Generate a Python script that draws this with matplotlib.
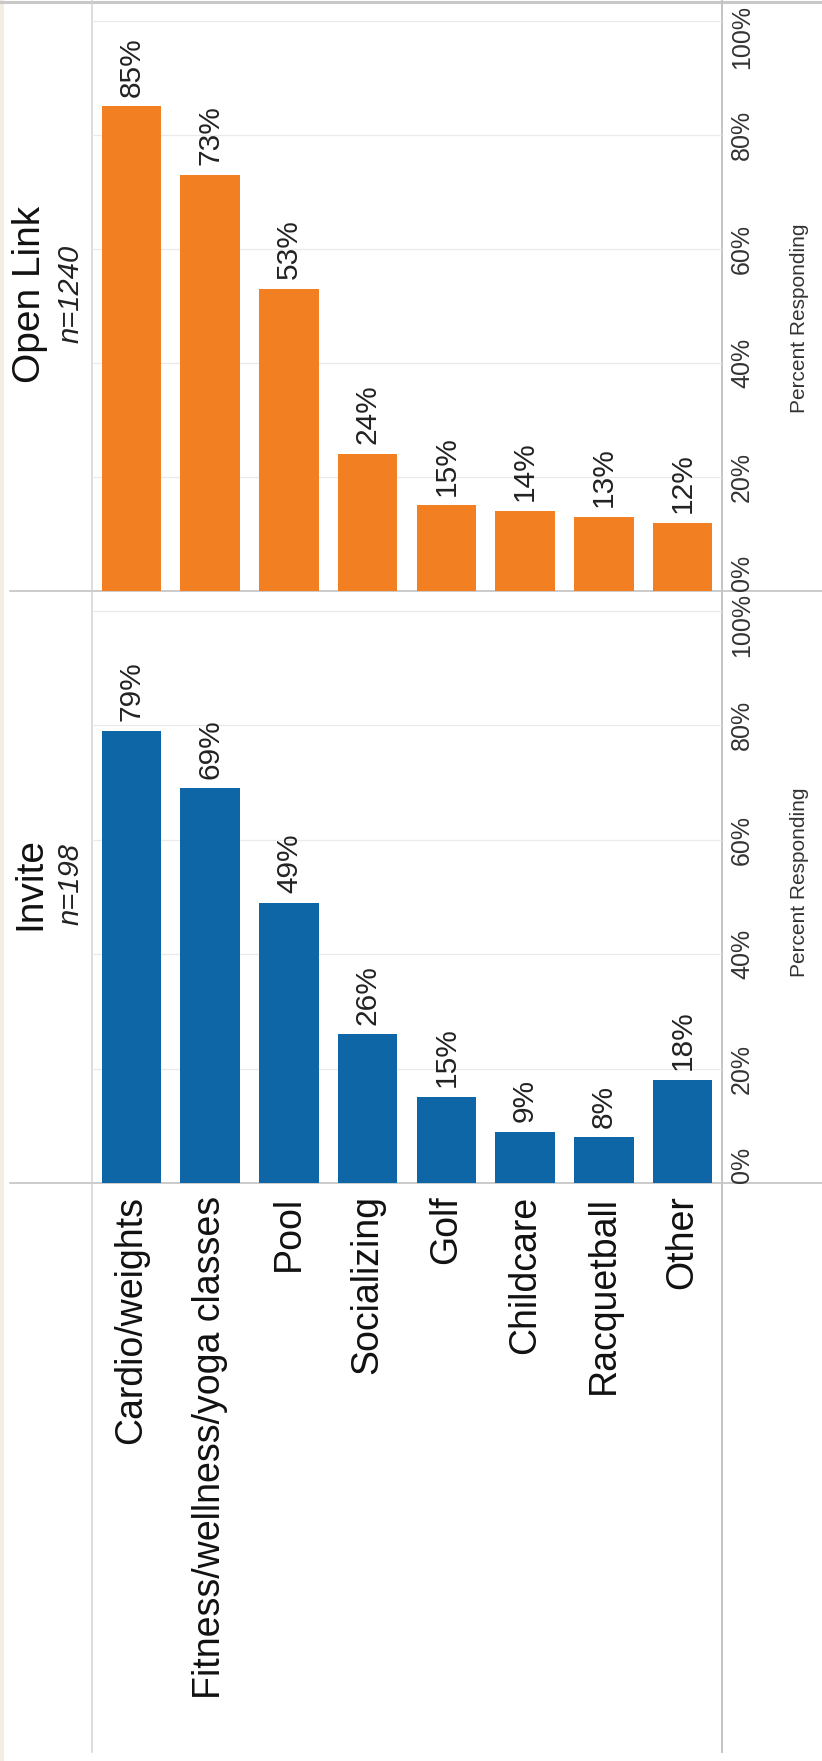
import matplotlib
matplotlib.use("Agg")
import matplotlib.pyplot as plt
from matplotlib.lines import Line2D
from matplotlib.patches import Rectangle
import matplotlib.transforms as mtransforms

# ---- data ----
categories = ["Cardio/weights", "Fitness/wellness/yoga classes", "Pool", "Socializing",
              "Golf", "Childcare", "Racquetball", "Other"]
open_link = [85, 73, 53, 24, 15, 14, 13, 12]
invite = [79, 69, 49, 26, 15, 9, 8, 18]
panel_names = ["Open Link", "Invite"]
panel_n = ["n=1240", "n=198"]
tick_values = [0, 20, 40, 60, 80, 100]
tick_labels = ["0%", "20%", "40%", "60%", "80%", "100%"]
axis_title = "Percent Responding"

colors = ["#F27F22", "#0E66A6"]

plt.rcParams['font.family'] = ['Liberation Sans', 'DejaVu Sans']

W, H = 822, 1761
DPI = 100
fig = plt.figure(figsize=(W / DPI, H / DPI), dpi=DPI)
fig.patch.set_facecolor("white")


def fx(px):
    return px / W


def fy(py):
    return 1 - py / H


def hline(y, x0, x1, color, lw):
    fig.add_artist(Line2D([fx(x0), fx(x1)], [fy(y), fy(y)], color=color, lw=lw,
                          transform=fig.transFigure, zorder=0))


def vline(x, y0, y1, color, lw):
    fig.add_artist(Line2D([fx(x), fx(x)], [fy(y0), fy(y1)], color=color, lw=lw,
                          transform=fig.transFigure, zorder=0))


# background strip on the left edge
fig.add_artist(Rectangle((0, 0), fx(4), 1, transform=fig.transFigure,
                         facecolor="#F4EEE2", edgecolor="none", zorder=0))

ax_left, ax_right = 92, 722
panels = [
    # (top px, zero px, hundred px, axis-title centre px)
    (3, 591, 21, 318),
    (591, 1183, 611, 882),
]
series = [open_link, invite]

axes = []
for p, ((top, zero, hund, tcy), vals) in enumerate(zip(panels, series)):
    per = (zero - hund) / 100.0
    ymax = (zero - top) / per
    ax = fig.add_axes([fx(ax_left), fy(zero), fx(ax_right - ax_left), (zero - top) / H])
    ax.set_xlim(-0.5, len(categories) - 0.5)
    ax.set_ylim(0, ymax)
    ax.set_facecolor("none")
    for s in ax.spines.values():
        s.set_visible(False)
    ax.set_xticks([])
    ax.set_yticks([])
    for t in tick_values[1:]:
        ax.axhline(t, color="#EAEAEA", lw=0.9, zorder=0)
    x = list(range(len(categories)))
    ax.bar(x, vals, width=0.755, color=colors[p], zorder=2)
    for i, v in enumerate(vals):
        ax.annotate(f"{v}%", xy=(i, v), xytext=(0, 7), textcoords="offset points",
                    rotation=90, ha="center", va="bottom", fontsize=21.5, color="#222222")
    # value tick labels at right
    tr = mtransforms.blended_transform_factory(fig.transFigure, ax.transData)
    for t, lab in zip(tick_values, tick_labels):
        if t == 0:
            ax.text(fx(742), t, lab, transform=tr, rotation=90, ha="center", va="bottom",
                    fontsize=18, color="#333333")
        elif t == 100:
            ax.text(fx(742), ymax - 0.3, lab, transform=tr, rotation=90, ha="center", va="top",
                    fontsize=18, color="#333333")
        else:
            ax.text(fx(742), t, lab, transform=tr, rotation=90, ha="center", va="center",
                    fontsize=18, color="#333333")
    cy = (top + zero) / 2
    fig.text(fx(799), fy(tcy), axis_title, rotation=90, ha="center", va="center",
             fontsize=15, color="#333333")
    fig.text(fx(30), fy(cy - 3), panel_names[p], rotation=90, ha="center", va="center",
             fontsize=28, color="#111111")
    fig.text(fx(71), fy(cy - 3), panel_n[p], rotation=90, ha="center", va="center",
             fontsize=21, style="italic", color="#222222")
    axes.append(ax)

# category labels below bottom panel
axb = axes[-1]
for i, c in enumerate(categories):
    axb.annotate(c, xy=(i, 0), xytext=(0, -9), textcoords="offset points",
                 rotation=90, ha="center", va="top", fontsize=27, color="#111111",
                 annotation_clip=False)

# frame lines
hline(2, 0, W, "#C8C8C8", 2.2)
hline(591, 10, W, "#BDBDBD", 1.1)
hline(1183, 10, W, "#BDBDBD", 1.1)
vline(ax_left, 0, 1752, "#D2D2D2", 1.1)
vline(ax_right, 0, 1752, "#C4C4C4", 1.4)

fig.savefig("out.png", dpi=DPI, facecolor="white")
